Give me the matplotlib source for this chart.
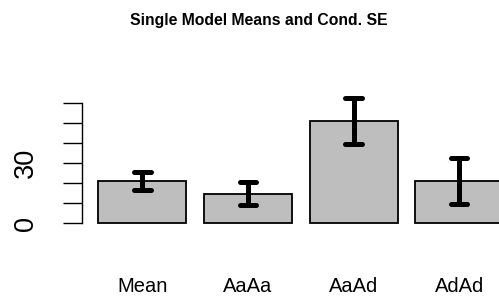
import matplotlib
matplotlib.use("Agg")
import matplotlib.pyplot as plt

# values
categories = ["Mean", "AaAa", "AaAd", "AdAd"]
means = [21.2, 14.8, 50.9, 21.2]
cond_se = [4.4, 5.6, 11.3, 11.4]
y_ticks = [0, 10, 20, 30, 40, 50, 60]
y_labels = ["0", "", "", "30", "", "", ""]

plt.rcParams["font.family"] = ["Liberation Sans", "DejaVu Sans"]

W, H = 499, 297
fig = plt.figure(figsize=(W / 100, H / 100), dpi=100)

# plot region in pixels (R-style barplot, right edge runs off the figure)
left_px, right_px = 82.1, 519.3
top_px, bot_px = 90.0, 235.0
ax = fig.add_axes([left_px / W, 1 - bot_px / H,
                   (right_px - left_px) / W, (bot_px - top_px) / H])
ax.patch.set_visible(False)

# bar layout like barplot(width=1, space=0.2)
centers = [0.7 + 1.2 * i for i in range(len(categories))]
ax.bar(centers, means, width=1.0, color="#bebebe", edgecolor="black",
       linewidth=1.3, zorder=2)

lo = [m - s for m, s in zip(means, cond_se)]
hi = [m + s for m, s in zip(means, cond_se)]
ax.vlines(centers, lo, hi, color="black", linewidth=3.6, capstyle="round", zorder=3)
cap = 0.095
ax.hlines(lo, [c - cap for c in centers], [c + cap for c in centers],
          color="black", linewidth=3.6, capstyle="round", zorder=3)
ax.hlines(hi, [c - cap for c in centers], [c + cap for c in centers],
          color="black", linewidth=3.6, capstyle="round", zorder=3)

# pixel scale: 0 -> 223.3 px, 60 -> 102.7 px
ppu = (223.3 - 102.7) / 60
ax.set_ylim(-(bot_px - 223.3) / ppu, (223.3 - top_px) / ppu)
ax.set_xlim(0.016, 4.984)

for s in ["top", "right", "bottom"]:
    ax.spines[s].set_visible(False)
ax.spines["left"].set_bounds(0, 60)
ax.spines["left"].set_linewidth(1.0)
ax.set_yticks(y_ticks)
ax.set_yticklabels(y_labels, rotation=90, va="center", fontsize=19.5)
ax.tick_params(axis="y", length=14, width=1.0, pad=17)

ax.set_xticks(centers)
ax.set_xticklabels(categories, fontsize=14.5)
ax.tick_params(axis="x", length=0, pad=30)

fig.text(259 / W, 1 - 20 / H, "Single Model Means and Cond. SE",
         ha="center", va="center", fontsize=11.3, fontweight="bold")

fig.savefig("out.png", dpi=100)
